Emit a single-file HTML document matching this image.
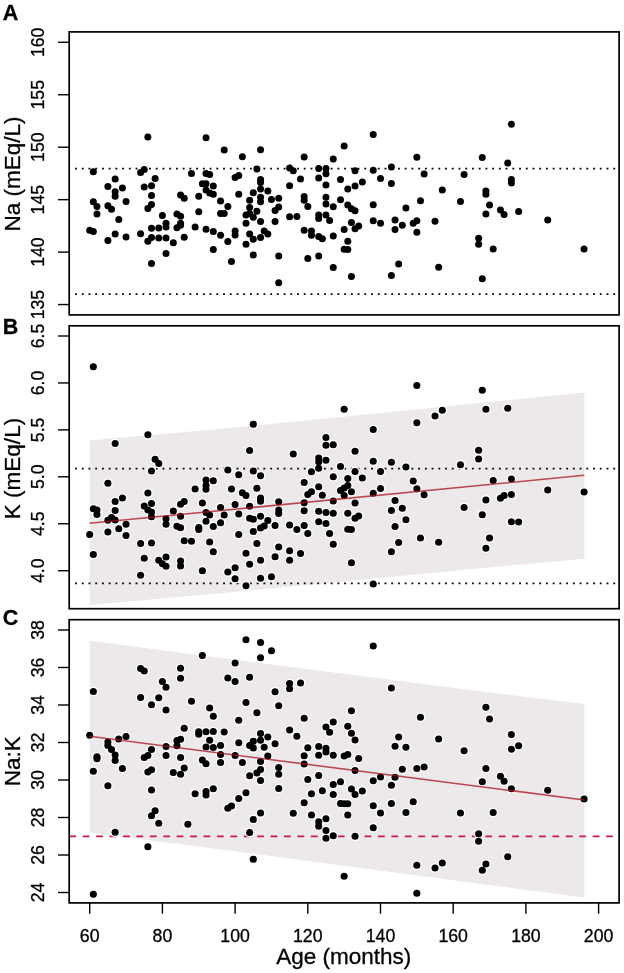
<!DOCTYPE html>
<html><head><meta charset="utf-8"><title>Figure</title>
<style>html,body{margin:0;padding:0;background:#fff}svg{display:block;will-change:transform}</style></head>
<body>
<svg width="624" height="973" viewBox="0 0 624 973" font-family="Liberation Sans, Arial, Helvetica, sans-serif">
<rect width="624" height="973" fill="#fff"/>
<polygon fill="#ede8ea" points="89.7,440.6 225,428.6 468,404.3 584.3,392.5 584.3,558.75 468,569.5 225,592.8 89.7,605"/>
<polygon fill="#ede8ea" points="89.7,640.75 225,658.5 468,689.8 584.3,704 584.3,897.5 468,882.3 225,850 89.7,832.5"/>
<line x1="75.05" y1="168.60" x2="615.4" y2="168.60" stroke="#0a0a0a" stroke-width="1.75" stroke-dasharray="1.9 4.8275" fill="none"/>
<line x1="75.05" y1="294.00" x2="615.4" y2="294.00" stroke="#0a0a0a" stroke-width="1.75" stroke-dasharray="1.9 4.8275" fill="none"/>
<line x1="75.05" y1="468.50" x2="615.4" y2="468.50" stroke="#0a0a0a" stroke-width="1.75" stroke-dasharray="1.9 4.8275" fill="none"/>
<line x1="75.05" y1="583.30" x2="615.4" y2="583.30" stroke="#0a0a0a" stroke-width="1.75" stroke-dasharray="1.9 4.8275" fill="none"/>
<line x1="69.3" y1="836.3" x2="618" y2="836.3" stroke="#c41e45" stroke-width="1.65" stroke-dasharray="6.8 6.62" fill="none"/>
<g fill="#000"><circle cx="147.86" cy="137.0" r="3.5"/><circle cx="206.02" cy="137.75" r="3.5"/><circle cx="224.19" cy="150.0" r="3.5"/><circle cx="93.34" cy="171.75" r="3.5"/><circle cx="144.22" cy="169.5" r="3.5"/><circle cx="140.59" cy="172.5" r="3.5"/><circle cx="115.15" cy="179.0" r="3.5"/><circle cx="155.13" cy="178.5" r="3.5"/><circle cx="191.48" cy="173.5" r="3.5"/><circle cx="206.02" cy="173.5" r="3.5"/><circle cx="209.66" cy="174.5" r="3.5"/><circle cx="107.88" cy="186.5" r="3.5"/><circle cx="122.41" cy="188.0" r="3.5"/><circle cx="144.22" cy="187.0" r="3.5"/><circle cx="151.5" cy="185.75" r="3.5"/><circle cx="202.38" cy="183.75" r="3.5"/><circle cx="206.02" cy="183.75" r="3.5"/><circle cx="213.29" cy="186.0" r="3.5"/><circle cx="115.15" cy="191.75" r="3.5"/><circle cx="115.15" cy="196.25" r="3.5"/><circle cx="151.5" cy="195.5" r="3.5"/><circle cx="180.57" cy="195.0" r="3.5"/><circle cx="184.21" cy="198.25" r="3.5"/><circle cx="198.75" cy="196.25" r="3.5"/><circle cx="206.02" cy="190.0" r="3.5"/><circle cx="209.66" cy="193.0" r="3.5"/><circle cx="213.29" cy="194.25" r="3.5"/><circle cx="93.34" cy="201.75" r="3.5"/><circle cx="126.05" cy="201.5" r="3.5"/><circle cx="220.56" cy="201.0" r="3.5"/><circle cx="96.97" cy="206.5" r="3.5"/><circle cx="107.88" cy="205.75" r="3.5"/><circle cx="111.51" cy="209.25" r="3.5"/><circle cx="151.5" cy="204.5" r="3.5"/><circle cx="147.86" cy="208.5" r="3.5"/><circle cx="96.97" cy="214.0" r="3.5"/><circle cx="162.4" cy="215.5" r="3.5"/><circle cx="176.94" cy="214.0" r="3.5"/><circle cx="180.57" cy="216.25" r="3.5"/><circle cx="198.75" cy="211.75" r="3.5"/><circle cx="220.56" cy="213.5" r="3.5"/><circle cx="224.19" cy="213.5" r="3.5"/><circle cx="118.78" cy="219.5" r="3.5"/><circle cx="166.03" cy="223.25" r="3.5"/><circle cx="166.03" cy="227.0" r="3.5"/><circle cx="180.57" cy="223.25" r="3.5"/><circle cx="180.57" cy="225.25" r="3.5"/><circle cx="176.94" cy="227.75" r="3.5"/><circle cx="151.5" cy="228.25" r="3.5"/><circle cx="158.76" cy="228.0" r="3.5"/><circle cx="195.12" cy="227.0" r="3.5"/><circle cx="89.7" cy="230.25" r="3.5"/><circle cx="93.34" cy="231.5" r="3.5"/><circle cx="206.02" cy="229.25" r="3.5"/><circle cx="213.29" cy="231.5" r="3.5"/><circle cx="115.15" cy="234.0" r="3.5"/><circle cx="140.59" cy="233.75" r="3.5"/><circle cx="126.05" cy="237.0" r="3.5"/><circle cx="107.88" cy="240.5" r="3.5"/><circle cx="151.5" cy="237.5" r="3.5"/><circle cx="147.86" cy="241.25" r="3.5"/><circle cx="158.76" cy="238.0" r="3.5"/><circle cx="166.03" cy="238.0" r="3.5"/><circle cx="184.21" cy="237.25" r="3.5"/><circle cx="173.31" cy="242.75" r="3.5"/><circle cx="220.56" cy="235.25" r="3.5"/><circle cx="213.29" cy="249.5" r="3.5"/><circle cx="166.03" cy="253.5" r="3.5"/><circle cx="151.5" cy="263.5" r="3.5"/><circle cx="373.23" cy="134.5" r="3.5"/><circle cx="260.55" cy="149.75" r="3.5"/><circle cx="344.15" cy="146.0" r="3.5"/><circle cx="242.37" cy="156.75" r="3.5"/><circle cx="304.16" cy="157.0" r="3.5"/><circle cx="333.25" cy="159.0" r="3.5"/><circle cx="256.91" cy="169.0" r="3.5"/><circle cx="289.62" cy="168.0" r="3.5"/><circle cx="293.26" cy="170.75" r="3.5"/><circle cx="318.7" cy="168.5" r="3.5"/><circle cx="325.97" cy="168.5" r="3.5"/><circle cx="355.05" cy="170.75" r="3.5"/><circle cx="373.23" cy="170.25" r="3.5"/><circle cx="325.97" cy="173.75" r="3.5"/><circle cx="238.74" cy="175.5" r="3.5"/><circle cx="235.1" cy="177.5" r="3.5"/><circle cx="300.53" cy="179.0" r="3.5"/><circle cx="318.7" cy="178.0" r="3.5"/><circle cx="340.51" cy="179.5" r="3.5"/><circle cx="260.55" cy="179.5" r="3.5"/><circle cx="260.55" cy="182.5" r="3.5"/><circle cx="289.62" cy="185.75" r="3.5"/><circle cx="325.97" cy="185.0" r="3.5"/><circle cx="362.32" cy="182.0" r="3.5"/><circle cx="355.05" cy="186.0" r="3.5"/><circle cx="347.78" cy="189.0" r="3.5"/><circle cx="260.55" cy="189.0" r="3.5"/><circle cx="267.81" cy="191.0" r="3.5"/><circle cx="253.27" cy="192.75" r="3.5"/><circle cx="238.74" cy="194.25" r="3.5"/><circle cx="260.55" cy="197.25" r="3.5"/><circle cx="260.55" cy="201.75" r="3.5"/><circle cx="271.45" cy="199.5" r="3.5"/><circle cx="278.72" cy="198.25" r="3.5"/><circle cx="249.64" cy="200.25" r="3.5"/><circle cx="304.16" cy="196.5" r="3.5"/><circle cx="304.16" cy="200.25" r="3.5"/><circle cx="325.97" cy="197.25" r="3.5"/><circle cx="340.51" cy="199.75" r="3.5"/><circle cx="227.83" cy="206.5" r="3.5"/><circle cx="249.64" cy="207.5" r="3.5"/><circle cx="256.91" cy="211.25" r="3.5"/><circle cx="278.72" cy="207.0" r="3.5"/><circle cx="275.08" cy="210.5" r="3.5"/><circle cx="307.8" cy="206.5" r="3.5"/><circle cx="325.97" cy="204.0" r="3.5"/><circle cx="333.25" cy="206.75" r="3.5"/><circle cx="347.78" cy="205.0" r="3.5"/><circle cx="351.42" cy="208.75" r="3.5"/><circle cx="355.05" cy="210.75" r="3.5"/><circle cx="373.23" cy="204.75" r="3.5"/><circle cx="246.0" cy="215.0" r="3.5"/><circle cx="249.64" cy="213.5" r="3.5"/><circle cx="253.27" cy="217.25" r="3.5"/><circle cx="289.62" cy="216.75" r="3.5"/><circle cx="296.89" cy="216.5" r="3.5"/><circle cx="318.7" cy="215.0" r="3.5"/><circle cx="318.7" cy="218.5" r="3.5"/><circle cx="325.97" cy="215.0" r="3.5"/><circle cx="329.61" cy="220.5" r="3.5"/><circle cx="373.23" cy="220.75" r="3.5"/><circle cx="246.0" cy="223.25" r="3.5"/><circle cx="260.55" cy="221.5" r="3.5"/><circle cx="275.08" cy="221.5" r="3.5"/><circle cx="351.42" cy="222.5" r="3.5"/><circle cx="358.69" cy="226.0" r="3.5"/><circle cx="355.05" cy="228.75" r="3.5"/><circle cx="235.1" cy="231.0" r="3.5"/><circle cx="235.1" cy="235.0" r="3.5"/><circle cx="249.64" cy="234.0" r="3.5"/><circle cx="264.18" cy="231.0" r="3.5"/><circle cx="267.81" cy="234.0" r="3.5"/><circle cx="260.55" cy="237.5" r="3.5"/><circle cx="253.27" cy="239.25" r="3.5"/><circle cx="304.16" cy="230.25" r="3.5"/><circle cx="311.44" cy="231.0" r="3.5"/><circle cx="311.44" cy="235.25" r="3.5"/><circle cx="318.7" cy="236.5" r="3.5"/><circle cx="322.34" cy="238.75" r="3.5"/><circle cx="333.25" cy="236.0" r="3.5"/><circle cx="344.15" cy="229.5" r="3.5"/><circle cx="227.83" cy="241.5" r="3.5"/><circle cx="246.0" cy="244.25" r="3.5"/><circle cx="347.78" cy="241.25" r="3.5"/><circle cx="344.15" cy="249.25" r="3.5"/><circle cx="347.78" cy="249.5" r="3.5"/><circle cx="253.27" cy="255.0" r="3.5"/><circle cx="278.72" cy="256.0" r="3.5"/><circle cx="307.8" cy="258.5" r="3.5"/><circle cx="318.7" cy="256.0" r="3.5"/><circle cx="231.46" cy="261.5" r="3.5"/><circle cx="333.25" cy="267.5" r="3.5"/><circle cx="351.42" cy="276.5" r="3.5"/><circle cx="278.72" cy="282.75" r="3.5"/><circle cx="511.36" cy="124.25" r="3.5"/><circle cx="416.85" cy="157.25" r="3.5"/><circle cx="482.28" cy="157.5" r="3.5"/><circle cx="507.72" cy="163.0" r="3.5"/><circle cx="391.4" cy="167.0" r="3.5"/><circle cx="424.12" cy="174.0" r="3.5"/><circle cx="464.1" cy="174.5" r="3.5"/><circle cx="380.5" cy="178.5" r="3.5"/><circle cx="391.4" cy="183.5" r="3.5"/><circle cx="511.36" cy="179.5" r="3.5"/><circle cx="511.36" cy="183.0" r="3.5"/><circle cx="442.29" cy="190.0" r="3.5"/><circle cx="485.91" cy="191.0" r="3.5"/><circle cx="485.91" cy="194.25" r="3.5"/><circle cx="420.48" cy="200.75" r="3.5"/><circle cx="460.47" cy="201.5" r="3.5"/><circle cx="405.94" cy="208.0" r="3.5"/><circle cx="489.55" cy="205.0" r="3.5"/><circle cx="500.45" cy="210.0" r="3.5"/><circle cx="504.09" cy="214.5" r="3.5"/><circle cx="485.91" cy="214.0" r="3.5"/><circle cx="518.63" cy="211.5" r="3.5"/><circle cx="380.5" cy="223.25" r="3.5"/><circle cx="395.04" cy="220.0" r="3.5"/><circle cx="416.85" cy="220.75" r="3.5"/><circle cx="413.21" cy="223.25" r="3.5"/><circle cx="402.31" cy="225.25" r="3.5"/><circle cx="435.02" cy="221.25" r="3.5"/><circle cx="395.04" cy="229.5" r="3.5"/><circle cx="416.85" cy="232.25" r="3.5"/><circle cx="478.64" cy="238.25" r="3.5"/><circle cx="478.64" cy="244.25" r="3.5"/><circle cx="493.18" cy="249.0" r="3.5"/><circle cx="398.67" cy="264.0" r="3.5"/><circle cx="438.66" cy="267.25" r="3.5"/><circle cx="391.4" cy="275.5" r="3.5"/><circle cx="482.28" cy="278.75" r="3.5"/><circle cx="547.71" cy="220.0" r="3.5"/><circle cx="584.06" cy="249.0" r="3.5"/></g>
<g fill="#fff"><circle cx="93.34" cy="366.75" r="4.8"/><circle cx="147.86" cy="434.75" r="4.8"/><circle cx="115.15" cy="443.5" r="4.8"/><circle cx="155.13" cy="459.25" r="4.8"/><circle cx="158.76" cy="463.5" r="4.8"/><circle cx="151.5" cy="471.0" r="4.8"/><circle cx="107.88" cy="483.25" r="4.8"/><circle cx="206.02" cy="480.0" r="4.8"/><circle cx="213.29" cy="480.75" r="4.8"/><circle cx="206.02" cy="485.5" r="4.8"/><circle cx="206.02" cy="489.25" r="4.8"/><circle cx="195.12" cy="489.0" r="4.8"/><circle cx="147.86" cy="493.0" r="4.8"/><circle cx="122.41" cy="498.0" r="4.8"/><circle cx="115.15" cy="501.5" r="4.8"/><circle cx="184.21" cy="501.5" r="4.8"/><circle cx="180.57" cy="504.25" r="4.8"/><circle cx="151.5" cy="503.5" r="4.8"/><circle cx="202.38" cy="503.0" r="4.8"/><circle cx="144.22" cy="506.0" r="4.8"/><circle cx="93.34" cy="508.75" r="4.8"/><circle cx="96.97" cy="510.0" r="4.8"/><circle cx="96.97" cy="514.5" r="4.8"/><circle cx="115.15" cy="510.5" r="4.8"/><circle cx="147.86" cy="510.0" r="4.8"/><circle cx="151.5" cy="512.0" r="4.8"/><circle cx="151.5" cy="516.75" r="4.8"/><circle cx="173.31" cy="511.0" r="4.8"/><circle cx="220.56" cy="507.5" r="4.8"/><circle cx="206.02" cy="512.5" r="4.8"/><circle cx="209.66" cy="515.0" r="4.8"/><circle cx="224.19" cy="515.0" r="4.8"/><circle cx="180.57" cy="516.25" r="4.8"/><circle cx="111.51" cy="517.5" r="4.8"/><circle cx="107.88" cy="520.25" r="4.8"/><circle cx="115.15" cy="520.0" r="4.8"/><circle cx="166.03" cy="518.75" r="4.8"/><circle cx="166.03" cy="524.25" r="4.8"/><circle cx="206.02" cy="521.25" r="4.8"/><circle cx="220.56" cy="522.75" r="4.8"/><circle cx="126.05" cy="524.25" r="4.8"/><circle cx="176.94" cy="526.25" r="4.8"/><circle cx="180.57" cy="527.75" r="4.8"/><circle cx="198.75" cy="527.5" r="4.8"/><circle cx="198.75" cy="529.5" r="4.8"/><circle cx="213.29" cy="526.5" r="4.8"/><circle cx="118.78" cy="528.75" r="4.8"/><circle cx="107.88" cy="532.0" r="4.8"/><circle cx="89.7" cy="534.5" r="4.8"/><circle cx="126.05" cy="535.5" r="4.8"/><circle cx="184.21" cy="540.75" r="4.8"/><circle cx="191.48" cy="541.25" r="4.8"/><circle cx="209.66" cy="542.0" r="4.8"/><circle cx="140.59" cy="543.5" r="4.8"/><circle cx="151.5" cy="543.0" r="4.8"/><circle cx="93.34" cy="554.5" r="4.8"/><circle cx="213.29" cy="551.75" r="4.8"/><circle cx="144.22" cy="558.25" r="4.8"/><circle cx="166.03" cy="557.0" r="4.8"/><circle cx="158.76" cy="560.25" r="4.8"/><circle cx="162.4" cy="563.75" r="4.8"/><circle cx="166.03" cy="566.25" r="4.8"/><circle cx="180.57" cy="561.0" r="4.8"/><circle cx="180.57" cy="566.0" r="4.8"/><circle cx="202.38" cy="570.75" r="4.8"/><circle cx="140.59" cy="575.25" r="4.8"/><circle cx="344.15" cy="409.25" r="4.8"/><circle cx="253.27" cy="424.25" r="4.8"/><circle cx="373.23" cy="429.5" r="4.8"/><circle cx="325.97" cy="437.5" r="4.8"/><circle cx="325.97" cy="445.25" r="4.8"/><circle cx="333.25" cy="444.75" r="4.8"/><circle cx="249.64" cy="450.5" r="4.8"/><circle cx="293.26" cy="454.0" r="4.8"/><circle cx="355.05" cy="451.25" r="4.8"/><circle cx="318.7" cy="458.0" r="4.8"/><circle cx="318.7" cy="461.75" r="4.8"/><circle cx="325.97" cy="460.25" r="4.8"/><circle cx="373.23" cy="461.25" r="4.8"/><circle cx="340.51" cy="466.5" r="4.8"/><circle cx="318.7" cy="468.25" r="4.8"/><circle cx="227.83" cy="470.0" r="4.8"/><circle cx="253.27" cy="471.0" r="4.8"/><circle cx="311.44" cy="471.75" r="4.8"/><circle cx="355.05" cy="471.5" r="4.8"/><circle cx="238.74" cy="474.75" r="4.8"/><circle cx="260.55" cy="475.75" r="4.8"/><circle cx="333.25" cy="476.75" r="4.8"/><circle cx="347.78" cy="478.5" r="4.8"/><circle cx="362.32" cy="478.0" r="4.8"/><circle cx="304.16" cy="482.5" r="4.8"/><circle cx="231.46" cy="489.0" r="4.8"/><circle cx="256.91" cy="488.25" r="4.8"/><circle cx="318.7" cy="486.75" r="4.8"/><circle cx="347.78" cy="485.5" r="4.8"/><circle cx="344.15" cy="488.0" r="4.8"/><circle cx="340.51" cy="490.5" r="4.8"/><circle cx="311.44" cy="491.75" r="4.8"/><circle cx="307.8" cy="494.5" r="4.8"/><circle cx="242.37" cy="492.75" r="4.8"/><circle cx="246.0" cy="495.5" r="4.8"/><circle cx="322.34" cy="495.25" r="4.8"/><circle cx="351.42" cy="491.75" r="4.8"/><circle cx="344.15" cy="495.5" r="4.8"/><circle cx="373.23" cy="493.25" r="4.8"/><circle cx="260.55" cy="498.0" r="4.8"/><circle cx="260.55" cy="501.25" r="4.8"/><circle cx="278.72" cy="501.75" r="4.8"/><circle cx="304.16" cy="502.75" r="4.8"/><circle cx="333.25" cy="501.0" r="4.8"/><circle cx="355.05" cy="503.0" r="4.8"/><circle cx="235.1" cy="504.5" r="4.8"/><circle cx="249.64" cy="506.25" r="4.8"/><circle cx="278.72" cy="510.0" r="4.8"/><circle cx="278.72" cy="513.5" r="4.8"/><circle cx="304.16" cy="510.75" r="4.8"/><circle cx="318.7" cy="511.25" r="4.8"/><circle cx="325.97" cy="512.5" r="4.8"/><circle cx="333.25" cy="513.25" r="4.8"/><circle cx="347.78" cy="513.25" r="4.8"/><circle cx="238.74" cy="514.0" r="4.8"/><circle cx="260.55" cy="516.25" r="4.8"/><circle cx="249.64" cy="518.25" r="4.8"/><circle cx="253.27" cy="519.25" r="4.8"/><circle cx="358.69" cy="516.0" r="4.8"/><circle cx="355.05" cy="518.25" r="4.8"/><circle cx="267.81" cy="520.5" r="4.8"/><circle cx="318.7" cy="521.75" r="4.8"/><circle cx="325.97" cy="523.5" r="4.8"/><circle cx="275.08" cy="525.5" r="4.8"/><circle cx="289.62" cy="525.0" r="4.8"/><circle cx="304.16" cy="525.5" r="4.8"/><circle cx="264.18" cy="526.0" r="4.8"/><circle cx="260.55" cy="528.0" r="4.8"/><circle cx="296.89" cy="529.5" r="4.8"/><circle cx="347.78" cy="529.25" r="4.8"/><circle cx="351.42" cy="529.5" r="4.8"/><circle cx="253.27" cy="531.5" r="4.8"/><circle cx="307.8" cy="533.5" r="4.8"/><circle cx="329.61" cy="533.5" r="4.8"/><circle cx="238.74" cy="534.5" r="4.8"/><circle cx="256.91" cy="543.5" r="4.8"/><circle cx="333.25" cy="544.25" r="4.8"/><circle cx="278.72" cy="547.0" r="4.8"/><circle cx="289.62" cy="550.75" r="4.8"/><circle cx="246.0" cy="553.25" r="4.8"/><circle cx="300.53" cy="553.5" r="4.8"/><circle cx="275.08" cy="556.75" r="4.8"/><circle cx="260.55" cy="560.25" r="4.8"/><circle cx="289.62" cy="560.25" r="4.8"/><circle cx="249.64" cy="564.25" r="4.8"/><circle cx="351.42" cy="562.75" r="4.8"/><circle cx="235.1" cy="567.75" r="4.8"/><circle cx="227.83" cy="572.0" r="4.8"/><circle cx="235.1" cy="578.75" r="4.8"/><circle cx="260.55" cy="578.25" r="4.8"/><circle cx="271.45" cy="576.75" r="4.8"/><circle cx="246.0" cy="585.75" r="4.8"/><circle cx="373.23" cy="584.0" r="4.8"/><circle cx="416.85" cy="385.5" r="4.8"/><circle cx="482.28" cy="390.25" r="4.8"/><circle cx="485.91" cy="409.25" r="4.8"/><circle cx="507.72" cy="408.25" r="4.8"/><circle cx="442.29" cy="410.25" r="4.8"/><circle cx="435.02" cy="416.0" r="4.8"/><circle cx="416.85" cy="422.75" r="4.8"/><circle cx="478.64" cy="450.25" r="4.8"/><circle cx="478.64" cy="459.0" r="4.8"/><circle cx="391.4" cy="462.25" r="4.8"/><circle cx="460.47" cy="464.75" r="4.8"/><circle cx="405.94" cy="467.0" r="4.8"/><circle cx="380.5" cy="471.5" r="4.8"/><circle cx="413.21" cy="481.0" r="4.8"/><circle cx="493.18" cy="480.5" r="4.8"/><circle cx="511.36" cy="479.0" r="4.8"/><circle cx="380.5" cy="488.5" r="4.8"/><circle cx="416.85" cy="488.75" r="4.8"/><circle cx="424.12" cy="494.75" r="4.8"/><circle cx="511.36" cy="494.5" r="4.8"/><circle cx="504.09" cy="495.5" r="4.8"/><circle cx="500.45" cy="498.25" r="4.8"/><circle cx="395.04" cy="500.5" r="4.8"/><circle cx="485.91" cy="500.0" r="4.8"/><circle cx="402.31" cy="508.25" r="4.8"/><circle cx="391.4" cy="510.5" r="4.8"/><circle cx="464.1" cy="507.5" r="4.8"/><circle cx="482.28" cy="514.75" r="4.8"/><circle cx="405.94" cy="519.75" r="4.8"/><circle cx="511.36" cy="521.75" r="4.8"/><circle cx="518.63" cy="522.0" r="4.8"/><circle cx="395.04" cy="526.5" r="4.8"/><circle cx="420.48" cy="538.0" r="4.8"/><circle cx="489.55" cy="538.0" r="4.8"/><circle cx="398.67" cy="542.5" r="4.8"/><circle cx="438.66" cy="542.25" r="4.8"/><circle cx="485.91" cy="548.25" r="4.8"/><circle cx="391.4" cy="551.75" r="4.8"/><circle cx="547.71" cy="490.0" r="4.8"/><circle cx="584.06" cy="492.0" r="4.8"/><circle cx="202.38" cy="655.5" r="4.8"/><circle cx="140.59" cy="668.5" r="4.8"/><circle cx="144.22" cy="671.0" r="4.8"/><circle cx="180.57" cy="668.25" r="4.8"/><circle cx="180.57" cy="678.25" r="4.8"/><circle cx="162.4" cy="681.5" r="4.8"/><circle cx="166.03" cy="687.25" r="4.8"/><circle cx="93.34" cy="691.5" r="4.8"/><circle cx="140.59" cy="697.5" r="4.8"/><circle cx="158.76" cy="697.75" r="4.8"/><circle cx="191.48" cy="701.25" r="4.8"/><circle cx="151.5" cy="704.75" r="4.8"/><circle cx="166.03" cy="710.0" r="4.8"/><circle cx="209.66" cy="708.0" r="4.8"/><circle cx="213.29" cy="716.25" r="4.8"/><circle cx="184.21" cy="728.25" r="4.8"/><circle cx="198.75" cy="731.75" r="4.8"/><circle cx="198.75" cy="734.25" r="4.8"/><circle cx="206.02" cy="731.75" r="4.8"/><circle cx="213.29" cy="731.5" r="4.8"/><circle cx="224.19" cy="732.0" r="4.8"/><circle cx="89.7" cy="735.25" r="4.8"/><circle cx="126.05" cy="736.5" r="4.8"/><circle cx="118.78" cy="739.0" r="4.8"/><circle cx="180.57" cy="739.25" r="4.8"/><circle cx="176.94" cy="740.5" r="4.8"/><circle cx="209.66" cy="740.25" r="4.8"/><circle cx="107.88" cy="742.0" r="4.8"/><circle cx="107.88" cy="745.5" r="4.8"/><circle cx="176.94" cy="745.75" r="4.8"/><circle cx="166.03" cy="746.5" r="4.8"/><circle cx="206.02" cy="747.0" r="4.8"/><circle cx="213.29" cy="747.5" r="4.8"/><circle cx="220.56" cy="745.5" r="4.8"/><circle cx="111.51" cy="749.5" r="4.8"/><circle cx="151.5" cy="749.5" r="4.8"/><circle cx="147.86" cy="755.5" r="4.8"/><circle cx="144.22" cy="757.5" r="4.8"/><circle cx="115.15" cy="755.0" r="4.8"/><circle cx="166.03" cy="755.5" r="4.8"/><circle cx="180.57" cy="757.5" r="4.8"/><circle cx="220.56" cy="754.5" r="4.8"/><circle cx="96.97" cy="756.75" r="4.8"/><circle cx="96.97" cy="758.75" r="4.8"/><circle cx="115.15" cy="760.5" r="4.8"/><circle cx="202.38" cy="760.0" r="4.8"/><circle cx="206.02" cy="763.75" r="4.8"/><circle cx="220.56" cy="762.5" r="4.8"/><circle cx="93.34" cy="771.25" r="4.8"/><circle cx="122.41" cy="768.5" r="4.8"/><circle cx="151.5" cy="769.75" r="4.8"/><circle cx="147.86" cy="772.0" r="4.8"/><circle cx="184.21" cy="768.0" r="4.8"/><circle cx="173.31" cy="772.5" r="4.8"/><circle cx="180.57" cy="774.25" r="4.8"/><circle cx="107.88" cy="785.75" r="4.8"/><circle cx="151.5" cy="790.0" r="4.8"/><circle cx="213.29" cy="788.75" r="4.8"/><circle cx="206.02" cy="791.5" r="4.8"/><circle cx="206.02" cy="795.0" r="4.8"/><circle cx="195.12" cy="793.75" r="4.8"/><circle cx="155.13" cy="810.75" r="4.8"/><circle cx="151.5" cy="815.75" r="4.8"/><circle cx="158.76" cy="823.25" r="4.8"/><circle cx="187.84" cy="824.25" r="4.8"/><circle cx="115.15" cy="832.25" r="4.8"/><circle cx="147.86" cy="846.75" r="4.8"/><circle cx="93.34" cy="894.25" r="4.8"/><circle cx="246.0" cy="639.75" r="4.8"/><circle cx="260.55" cy="642.5" r="4.8"/><circle cx="373.23" cy="646.0" r="4.8"/><circle cx="271.45" cy="650.75" r="4.8"/><circle cx="260.55" cy="657.75" r="4.8"/><circle cx="235.1" cy="663.0" r="4.8"/><circle cx="227.83" cy="678.0" r="4.8"/><circle cx="249.64" cy="677.25" r="4.8"/><circle cx="235.1" cy="681.5" r="4.8"/><circle cx="289.62" cy="683.5" r="4.8"/><circle cx="289.62" cy="688.75" r="4.8"/><circle cx="300.53" cy="683.0" r="4.8"/><circle cx="275.08" cy="691.75" r="4.8"/><circle cx="246.0" cy="702.5" r="4.8"/><circle cx="278.72" cy="705.75" r="4.8"/><circle cx="256.91" cy="712.75" r="4.8"/><circle cx="351.42" cy="710.75" r="4.8"/><circle cx="304.16" cy="718.25" r="4.8"/><circle cx="238.74" cy="720.25" r="4.8"/><circle cx="333.25" cy="722.0" r="4.8"/><circle cx="325.97" cy="727.0" r="4.8"/><circle cx="347.78" cy="726.25" r="4.8"/><circle cx="289.62" cy="730.0" r="4.8"/><circle cx="329.61" cy="732.25" r="4.8"/><circle cx="351.42" cy="733.25" r="4.8"/><circle cx="260.55" cy="733.5" r="4.8"/><circle cx="267.81" cy="737.0" r="4.8"/><circle cx="296.89" cy="736.25" r="4.8"/><circle cx="260.55" cy="740.25" r="4.8"/><circle cx="253.27" cy="741.25" r="4.8"/><circle cx="355.05" cy="740.0" r="4.8"/><circle cx="238.74" cy="742.75" r="4.8"/><circle cx="275.08" cy="743.75" r="4.8"/><circle cx="249.64" cy="745.5" r="4.8"/><circle cx="253.27" cy="748.0" r="4.8"/><circle cx="264.18" cy="747.25" r="4.8"/><circle cx="307.8" cy="747.75" r="4.8"/><circle cx="318.7" cy="746.5" r="4.8"/><circle cx="325.97" cy="748.25" r="4.8"/><circle cx="325.97" cy="752.0" r="4.8"/><circle cx="235.1" cy="755.5" r="4.8"/><circle cx="267.81" cy="756.0" r="4.8"/><circle cx="304.16" cy="755.75" r="4.8"/><circle cx="318.7" cy="755.25" r="4.8"/><circle cx="333.25" cy="755.25" r="4.8"/><circle cx="344.15" cy="756.0" r="4.8"/><circle cx="347.78" cy="754.5" r="4.8"/><circle cx="358.69" cy="758.5" r="4.8"/><circle cx="242.37" cy="762.5" r="4.8"/><circle cx="260.55" cy="761.5" r="4.8"/><circle cx="304.16" cy="764.0" r="4.8"/><circle cx="278.72" cy="767.5" r="4.8"/><circle cx="260.55" cy="769.5" r="4.8"/><circle cx="256.91" cy="773.0" r="4.8"/><circle cx="278.72" cy="774.25" r="4.8"/><circle cx="249.64" cy="775.75" r="4.8"/><circle cx="260.55" cy="780.5" r="4.8"/><circle cx="355.05" cy="770.5" r="4.8"/><circle cx="318.7" cy="775.5" r="4.8"/><circle cx="307.8" cy="779.5" r="4.8"/><circle cx="373.23" cy="780.75" r="4.8"/><circle cx="340.51" cy="781.75" r="4.8"/><circle cx="333.25" cy="784.5" r="4.8"/><circle cx="278.72" cy="788.5" r="4.8"/><circle cx="322.34" cy="790.75" r="4.8"/><circle cx="351.42" cy="789.0" r="4.8"/><circle cx="362.32" cy="791.0" r="4.8"/><circle cx="246.0" cy="792.75" r="4.8"/><circle cx="311.44" cy="793.75" r="4.8"/><circle cx="333.25" cy="794.5" r="4.8"/><circle cx="355.05" cy="794.5" r="4.8"/><circle cx="238.74" cy="798.5" r="4.8"/><circle cx="304.16" cy="802.75" r="4.8"/><circle cx="340.51" cy="803.5" r="4.8"/><circle cx="344.15" cy="803.75" r="4.8"/><circle cx="347.78" cy="803.75" r="4.8"/><circle cx="231.46" cy="806.0" r="4.8"/><circle cx="227.83" cy="808.25" r="4.8"/><circle cx="373.23" cy="805.75" r="4.8"/><circle cx="260.55" cy="813.0" r="4.8"/><circle cx="293.26" cy="813.25" r="4.8"/><circle cx="311.44" cy="815.0" r="4.8"/><circle cx="347.78" cy="815.0" r="4.8"/><circle cx="253.27" cy="819.5" r="4.8"/><circle cx="325.97" cy="818.75" r="4.8"/><circle cx="318.7" cy="821.75" r="4.8"/><circle cx="318.7" cy="826.25" r="4.8"/><circle cx="373.23" cy="827.75" r="4.8"/><circle cx="325.97" cy="830.5" r="4.8"/><circle cx="249.64" cy="832.5" r="4.8"/><circle cx="333.25" cy="835.75" r="4.8"/><circle cx="325.97" cy="838.25" r="4.8"/><circle cx="355.05" cy="836.25" r="4.8"/><circle cx="253.27" cy="859.25" r="4.8"/><circle cx="344.15" cy="876.25" r="4.8"/><circle cx="391.4" cy="688.0" r="4.8"/><circle cx="485.91" cy="707.25" r="4.8"/><circle cx="420.48" cy="717.25" r="4.8"/><circle cx="489.55" cy="719.0" r="4.8"/><circle cx="398.67" cy="737.0" r="4.8"/><circle cx="511.36" cy="734.5" r="4.8"/><circle cx="438.66" cy="739.0" r="4.8"/><circle cx="395.04" cy="746.25" r="4.8"/><circle cx="405.94" cy="747.25" r="4.8"/><circle cx="518.63" cy="745.75" r="4.8"/><circle cx="511.36" cy="749.25" r="4.8"/><circle cx="464.1" cy="750.75" r="4.8"/><circle cx="402.31" cy="769.25" r="4.8"/><circle cx="416.85" cy="768.5" r="4.8"/><circle cx="424.12" cy="767.0" r="4.8"/><circle cx="485.91" cy="768.5" r="4.8"/><circle cx="380.5" cy="777.0" r="4.8"/><circle cx="395.04" cy="777.25" r="4.8"/><circle cx="500.45" cy="776.25" r="4.8"/><circle cx="391.4" cy="785.25" r="4.8"/><circle cx="482.28" cy="781.75" r="4.8"/><circle cx="504.09" cy="781.25" r="4.8"/><circle cx="511.36" cy="788.75" r="4.8"/><circle cx="413.21" cy="801.75" r="4.8"/><circle cx="391.4" cy="803.5" r="4.8"/><circle cx="380.5" cy="813.0" r="4.8"/><circle cx="405.94" cy="812.5" r="4.8"/><circle cx="460.47" cy="813.0" r="4.8"/><circle cx="493.18" cy="812.5" r="4.8"/><circle cx="478.64" cy="833.75" r="4.8"/><circle cx="478.64" cy="841.25" r="4.8"/><circle cx="507.72" cy="856.75" r="4.8"/><circle cx="442.29" cy="863.0" r="4.8"/><circle cx="416.85" cy="865.25" r="4.8"/><circle cx="435.02" cy="868.0" r="4.8"/><circle cx="485.91" cy="864.0" r="4.8"/><circle cx="482.28" cy="870.25" r="4.8"/><circle cx="416.85" cy="893.25" r="4.8"/><circle cx="547.71" cy="790.25" r="4.8"/><circle cx="584.06" cy="799.0" r="4.8"/></g>
<g fill="#000"><circle cx="93.34" cy="366.75" r="3.55"/><circle cx="147.86" cy="434.75" r="3.55"/><circle cx="115.15" cy="443.5" r="3.55"/><circle cx="155.13" cy="459.25" r="3.55"/><circle cx="158.76" cy="463.5" r="3.55"/><circle cx="151.5" cy="471.0" r="3.55"/><circle cx="107.88" cy="483.25" r="3.55"/><circle cx="206.02" cy="480.0" r="3.55"/><circle cx="213.29" cy="480.75" r="3.55"/><circle cx="206.02" cy="485.5" r="3.55"/><circle cx="206.02" cy="489.25" r="3.55"/><circle cx="195.12" cy="489.0" r="3.55"/><circle cx="147.86" cy="493.0" r="3.55"/><circle cx="122.41" cy="498.0" r="3.55"/><circle cx="115.15" cy="501.5" r="3.55"/><circle cx="184.21" cy="501.5" r="3.55"/><circle cx="180.57" cy="504.25" r="3.55"/><circle cx="151.5" cy="503.5" r="3.55"/><circle cx="202.38" cy="503.0" r="3.55"/><circle cx="144.22" cy="506.0" r="3.55"/><circle cx="93.34" cy="508.75" r="3.55"/><circle cx="96.97" cy="510.0" r="3.55"/><circle cx="96.97" cy="514.5" r="3.55"/><circle cx="115.15" cy="510.5" r="3.55"/><circle cx="147.86" cy="510.0" r="3.55"/><circle cx="151.5" cy="512.0" r="3.55"/><circle cx="151.5" cy="516.75" r="3.55"/><circle cx="173.31" cy="511.0" r="3.55"/><circle cx="220.56" cy="507.5" r="3.55"/><circle cx="206.02" cy="512.5" r="3.55"/><circle cx="209.66" cy="515.0" r="3.55"/><circle cx="224.19" cy="515.0" r="3.55"/><circle cx="180.57" cy="516.25" r="3.55"/><circle cx="111.51" cy="517.5" r="3.55"/><circle cx="107.88" cy="520.25" r="3.55"/><circle cx="115.15" cy="520.0" r="3.55"/><circle cx="166.03" cy="518.75" r="3.55"/><circle cx="166.03" cy="524.25" r="3.55"/><circle cx="206.02" cy="521.25" r="3.55"/><circle cx="220.56" cy="522.75" r="3.55"/><circle cx="126.05" cy="524.25" r="3.55"/><circle cx="176.94" cy="526.25" r="3.55"/><circle cx="180.57" cy="527.75" r="3.55"/><circle cx="198.75" cy="527.5" r="3.55"/><circle cx="198.75" cy="529.5" r="3.55"/><circle cx="213.29" cy="526.5" r="3.55"/><circle cx="118.78" cy="528.75" r="3.55"/><circle cx="107.88" cy="532.0" r="3.55"/><circle cx="89.7" cy="534.5" r="3.55"/><circle cx="126.05" cy="535.5" r="3.55"/><circle cx="184.21" cy="540.75" r="3.55"/><circle cx="191.48" cy="541.25" r="3.55"/><circle cx="209.66" cy="542.0" r="3.55"/><circle cx="140.59" cy="543.5" r="3.55"/><circle cx="151.5" cy="543.0" r="3.55"/><circle cx="93.34" cy="554.5" r="3.55"/><circle cx="213.29" cy="551.75" r="3.55"/><circle cx="144.22" cy="558.25" r="3.55"/><circle cx="166.03" cy="557.0" r="3.55"/><circle cx="158.76" cy="560.25" r="3.55"/><circle cx="162.4" cy="563.75" r="3.55"/><circle cx="166.03" cy="566.25" r="3.55"/><circle cx="180.57" cy="561.0" r="3.55"/><circle cx="180.57" cy="566.0" r="3.55"/><circle cx="202.38" cy="570.75" r="3.55"/><circle cx="140.59" cy="575.25" r="3.55"/><circle cx="344.15" cy="409.25" r="3.55"/><circle cx="253.27" cy="424.25" r="3.55"/><circle cx="373.23" cy="429.5" r="3.55"/><circle cx="325.97" cy="437.5" r="3.55"/><circle cx="325.97" cy="445.25" r="3.55"/><circle cx="333.25" cy="444.75" r="3.55"/><circle cx="249.64" cy="450.5" r="3.55"/><circle cx="293.26" cy="454.0" r="3.55"/><circle cx="355.05" cy="451.25" r="3.55"/><circle cx="318.7" cy="458.0" r="3.55"/><circle cx="318.7" cy="461.75" r="3.55"/><circle cx="325.97" cy="460.25" r="3.55"/><circle cx="373.23" cy="461.25" r="3.55"/><circle cx="340.51" cy="466.5" r="3.55"/><circle cx="318.7" cy="468.25" r="3.55"/><circle cx="227.83" cy="470.0" r="3.55"/><circle cx="253.27" cy="471.0" r="3.55"/><circle cx="311.44" cy="471.75" r="3.55"/><circle cx="355.05" cy="471.5" r="3.55"/><circle cx="238.74" cy="474.75" r="3.55"/><circle cx="260.55" cy="475.75" r="3.55"/><circle cx="333.25" cy="476.75" r="3.55"/><circle cx="347.78" cy="478.5" r="3.55"/><circle cx="362.32" cy="478.0" r="3.55"/><circle cx="304.16" cy="482.5" r="3.55"/><circle cx="231.46" cy="489.0" r="3.55"/><circle cx="256.91" cy="488.25" r="3.55"/><circle cx="318.7" cy="486.75" r="3.55"/><circle cx="347.78" cy="485.5" r="3.55"/><circle cx="344.15" cy="488.0" r="3.55"/><circle cx="340.51" cy="490.5" r="3.55"/><circle cx="311.44" cy="491.75" r="3.55"/><circle cx="307.8" cy="494.5" r="3.55"/><circle cx="242.37" cy="492.75" r="3.55"/><circle cx="246.0" cy="495.5" r="3.55"/><circle cx="322.34" cy="495.25" r="3.55"/><circle cx="351.42" cy="491.75" r="3.55"/><circle cx="344.15" cy="495.5" r="3.55"/><circle cx="373.23" cy="493.25" r="3.55"/><circle cx="260.55" cy="498.0" r="3.55"/><circle cx="260.55" cy="501.25" r="3.55"/><circle cx="278.72" cy="501.75" r="3.55"/><circle cx="304.16" cy="502.75" r="3.55"/><circle cx="333.25" cy="501.0" r="3.55"/><circle cx="355.05" cy="503.0" r="3.55"/><circle cx="235.1" cy="504.5" r="3.55"/><circle cx="249.64" cy="506.25" r="3.55"/><circle cx="278.72" cy="510.0" r="3.55"/><circle cx="278.72" cy="513.5" r="3.55"/><circle cx="304.16" cy="510.75" r="3.55"/><circle cx="318.7" cy="511.25" r="3.55"/><circle cx="325.97" cy="512.5" r="3.55"/><circle cx="333.25" cy="513.25" r="3.55"/><circle cx="347.78" cy="513.25" r="3.55"/><circle cx="238.74" cy="514.0" r="3.55"/><circle cx="260.55" cy="516.25" r="3.55"/><circle cx="249.64" cy="518.25" r="3.55"/><circle cx="253.27" cy="519.25" r="3.55"/><circle cx="358.69" cy="516.0" r="3.55"/><circle cx="355.05" cy="518.25" r="3.55"/><circle cx="267.81" cy="520.5" r="3.55"/><circle cx="318.7" cy="521.75" r="3.55"/><circle cx="325.97" cy="523.5" r="3.55"/><circle cx="275.08" cy="525.5" r="3.55"/><circle cx="289.62" cy="525.0" r="3.55"/><circle cx="304.16" cy="525.5" r="3.55"/><circle cx="264.18" cy="526.0" r="3.55"/><circle cx="260.55" cy="528.0" r="3.55"/><circle cx="296.89" cy="529.5" r="3.55"/><circle cx="347.78" cy="529.25" r="3.55"/><circle cx="351.42" cy="529.5" r="3.55"/><circle cx="253.27" cy="531.5" r="3.55"/><circle cx="307.8" cy="533.5" r="3.55"/><circle cx="329.61" cy="533.5" r="3.55"/><circle cx="238.74" cy="534.5" r="3.55"/><circle cx="256.91" cy="543.5" r="3.55"/><circle cx="333.25" cy="544.25" r="3.55"/><circle cx="278.72" cy="547.0" r="3.55"/><circle cx="289.62" cy="550.75" r="3.55"/><circle cx="246.0" cy="553.25" r="3.55"/><circle cx="300.53" cy="553.5" r="3.55"/><circle cx="275.08" cy="556.75" r="3.55"/><circle cx="260.55" cy="560.25" r="3.55"/><circle cx="289.62" cy="560.25" r="3.55"/><circle cx="249.64" cy="564.25" r="3.55"/><circle cx="351.42" cy="562.75" r="3.55"/><circle cx="235.1" cy="567.75" r="3.55"/><circle cx="227.83" cy="572.0" r="3.55"/><circle cx="235.1" cy="578.75" r="3.55"/><circle cx="260.55" cy="578.25" r="3.55"/><circle cx="271.45" cy="576.75" r="3.55"/><circle cx="246.0" cy="585.75" r="3.55"/><circle cx="373.23" cy="584.0" r="3.55"/><circle cx="416.85" cy="385.5" r="3.55"/><circle cx="482.28" cy="390.25" r="3.55"/><circle cx="485.91" cy="409.25" r="3.55"/><circle cx="507.72" cy="408.25" r="3.55"/><circle cx="442.29" cy="410.25" r="3.55"/><circle cx="435.02" cy="416.0" r="3.55"/><circle cx="416.85" cy="422.75" r="3.55"/><circle cx="478.64" cy="450.25" r="3.55"/><circle cx="478.64" cy="459.0" r="3.55"/><circle cx="391.4" cy="462.25" r="3.55"/><circle cx="460.47" cy="464.75" r="3.55"/><circle cx="405.94" cy="467.0" r="3.55"/><circle cx="380.5" cy="471.5" r="3.55"/><circle cx="413.21" cy="481.0" r="3.55"/><circle cx="493.18" cy="480.5" r="3.55"/><circle cx="511.36" cy="479.0" r="3.55"/><circle cx="380.5" cy="488.5" r="3.55"/><circle cx="416.85" cy="488.75" r="3.55"/><circle cx="424.12" cy="494.75" r="3.55"/><circle cx="511.36" cy="494.5" r="3.55"/><circle cx="504.09" cy="495.5" r="3.55"/><circle cx="500.45" cy="498.25" r="3.55"/><circle cx="395.04" cy="500.5" r="3.55"/><circle cx="485.91" cy="500.0" r="3.55"/><circle cx="402.31" cy="508.25" r="3.55"/><circle cx="391.4" cy="510.5" r="3.55"/><circle cx="464.1" cy="507.5" r="3.55"/><circle cx="482.28" cy="514.75" r="3.55"/><circle cx="405.94" cy="519.75" r="3.55"/><circle cx="511.36" cy="521.75" r="3.55"/><circle cx="518.63" cy="522.0" r="3.55"/><circle cx="395.04" cy="526.5" r="3.55"/><circle cx="420.48" cy="538.0" r="3.55"/><circle cx="489.55" cy="538.0" r="3.55"/><circle cx="398.67" cy="542.5" r="3.55"/><circle cx="438.66" cy="542.25" r="3.55"/><circle cx="485.91" cy="548.25" r="3.55"/><circle cx="391.4" cy="551.75" r="3.55"/><circle cx="547.71" cy="490.0" r="3.55"/><circle cx="584.06" cy="492.0" r="3.55"/><circle cx="202.38" cy="655.5" r="3.55"/><circle cx="140.59" cy="668.5" r="3.55"/><circle cx="144.22" cy="671.0" r="3.55"/><circle cx="180.57" cy="668.25" r="3.55"/><circle cx="180.57" cy="678.25" r="3.55"/><circle cx="162.4" cy="681.5" r="3.55"/><circle cx="166.03" cy="687.25" r="3.55"/><circle cx="93.34" cy="691.5" r="3.55"/><circle cx="140.59" cy="697.5" r="3.55"/><circle cx="158.76" cy="697.75" r="3.55"/><circle cx="191.48" cy="701.25" r="3.55"/><circle cx="151.5" cy="704.75" r="3.55"/><circle cx="166.03" cy="710.0" r="3.55"/><circle cx="209.66" cy="708.0" r="3.55"/><circle cx="213.29" cy="716.25" r="3.55"/><circle cx="184.21" cy="728.25" r="3.55"/><circle cx="198.75" cy="731.75" r="3.55"/><circle cx="198.75" cy="734.25" r="3.55"/><circle cx="206.02" cy="731.75" r="3.55"/><circle cx="213.29" cy="731.5" r="3.55"/><circle cx="224.19" cy="732.0" r="3.55"/><circle cx="89.7" cy="735.25" r="3.55"/><circle cx="126.05" cy="736.5" r="3.55"/><circle cx="118.78" cy="739.0" r="3.55"/><circle cx="180.57" cy="739.25" r="3.55"/><circle cx="176.94" cy="740.5" r="3.55"/><circle cx="209.66" cy="740.25" r="3.55"/><circle cx="107.88" cy="742.0" r="3.55"/><circle cx="107.88" cy="745.5" r="3.55"/><circle cx="176.94" cy="745.75" r="3.55"/><circle cx="166.03" cy="746.5" r="3.55"/><circle cx="206.02" cy="747.0" r="3.55"/><circle cx="213.29" cy="747.5" r="3.55"/><circle cx="220.56" cy="745.5" r="3.55"/><circle cx="111.51" cy="749.5" r="3.55"/><circle cx="151.5" cy="749.5" r="3.55"/><circle cx="147.86" cy="755.5" r="3.55"/><circle cx="144.22" cy="757.5" r="3.55"/><circle cx="115.15" cy="755.0" r="3.55"/><circle cx="166.03" cy="755.5" r="3.55"/><circle cx="180.57" cy="757.5" r="3.55"/><circle cx="220.56" cy="754.5" r="3.55"/><circle cx="96.97" cy="756.75" r="3.55"/><circle cx="96.97" cy="758.75" r="3.55"/><circle cx="115.15" cy="760.5" r="3.55"/><circle cx="202.38" cy="760.0" r="3.55"/><circle cx="206.02" cy="763.75" r="3.55"/><circle cx="220.56" cy="762.5" r="3.55"/><circle cx="93.34" cy="771.25" r="3.55"/><circle cx="122.41" cy="768.5" r="3.55"/><circle cx="151.5" cy="769.75" r="3.55"/><circle cx="147.86" cy="772.0" r="3.55"/><circle cx="184.21" cy="768.0" r="3.55"/><circle cx="173.31" cy="772.5" r="3.55"/><circle cx="180.57" cy="774.25" r="3.55"/><circle cx="107.88" cy="785.75" r="3.55"/><circle cx="151.5" cy="790.0" r="3.55"/><circle cx="213.29" cy="788.75" r="3.55"/><circle cx="206.02" cy="791.5" r="3.55"/><circle cx="206.02" cy="795.0" r="3.55"/><circle cx="195.12" cy="793.75" r="3.55"/><circle cx="155.13" cy="810.75" r="3.55"/><circle cx="151.5" cy="815.75" r="3.55"/><circle cx="158.76" cy="823.25" r="3.55"/><circle cx="187.84" cy="824.25" r="3.55"/><circle cx="115.15" cy="832.25" r="3.55"/><circle cx="147.86" cy="846.75" r="3.55"/><circle cx="93.34" cy="894.25" r="3.55"/><circle cx="246.0" cy="639.75" r="3.55"/><circle cx="260.55" cy="642.5" r="3.55"/><circle cx="373.23" cy="646.0" r="3.55"/><circle cx="271.45" cy="650.75" r="3.55"/><circle cx="260.55" cy="657.75" r="3.55"/><circle cx="235.1" cy="663.0" r="3.55"/><circle cx="227.83" cy="678.0" r="3.55"/><circle cx="249.64" cy="677.25" r="3.55"/><circle cx="235.1" cy="681.5" r="3.55"/><circle cx="289.62" cy="683.5" r="3.55"/><circle cx="289.62" cy="688.75" r="3.55"/><circle cx="300.53" cy="683.0" r="3.55"/><circle cx="275.08" cy="691.75" r="3.55"/><circle cx="246.0" cy="702.5" r="3.55"/><circle cx="278.72" cy="705.75" r="3.55"/><circle cx="256.91" cy="712.75" r="3.55"/><circle cx="351.42" cy="710.75" r="3.55"/><circle cx="304.16" cy="718.25" r="3.55"/><circle cx="238.74" cy="720.25" r="3.55"/><circle cx="333.25" cy="722.0" r="3.55"/><circle cx="325.97" cy="727.0" r="3.55"/><circle cx="347.78" cy="726.25" r="3.55"/><circle cx="289.62" cy="730.0" r="3.55"/><circle cx="329.61" cy="732.25" r="3.55"/><circle cx="351.42" cy="733.25" r="3.55"/><circle cx="260.55" cy="733.5" r="3.55"/><circle cx="267.81" cy="737.0" r="3.55"/><circle cx="296.89" cy="736.25" r="3.55"/><circle cx="260.55" cy="740.25" r="3.55"/><circle cx="253.27" cy="741.25" r="3.55"/><circle cx="355.05" cy="740.0" r="3.55"/><circle cx="238.74" cy="742.75" r="3.55"/><circle cx="275.08" cy="743.75" r="3.55"/><circle cx="249.64" cy="745.5" r="3.55"/><circle cx="253.27" cy="748.0" r="3.55"/><circle cx="264.18" cy="747.25" r="3.55"/><circle cx="307.8" cy="747.75" r="3.55"/><circle cx="318.7" cy="746.5" r="3.55"/><circle cx="325.97" cy="748.25" r="3.55"/><circle cx="325.97" cy="752.0" r="3.55"/><circle cx="235.1" cy="755.5" r="3.55"/><circle cx="267.81" cy="756.0" r="3.55"/><circle cx="304.16" cy="755.75" r="3.55"/><circle cx="318.7" cy="755.25" r="3.55"/><circle cx="333.25" cy="755.25" r="3.55"/><circle cx="344.15" cy="756.0" r="3.55"/><circle cx="347.78" cy="754.5" r="3.55"/><circle cx="358.69" cy="758.5" r="3.55"/><circle cx="242.37" cy="762.5" r="3.55"/><circle cx="260.55" cy="761.5" r="3.55"/><circle cx="304.16" cy="764.0" r="3.55"/><circle cx="278.72" cy="767.5" r="3.55"/><circle cx="260.55" cy="769.5" r="3.55"/><circle cx="256.91" cy="773.0" r="3.55"/><circle cx="278.72" cy="774.25" r="3.55"/><circle cx="249.64" cy="775.75" r="3.55"/><circle cx="260.55" cy="780.5" r="3.55"/><circle cx="355.05" cy="770.5" r="3.55"/><circle cx="318.7" cy="775.5" r="3.55"/><circle cx="307.8" cy="779.5" r="3.55"/><circle cx="373.23" cy="780.75" r="3.55"/><circle cx="340.51" cy="781.75" r="3.55"/><circle cx="333.25" cy="784.5" r="3.55"/><circle cx="278.72" cy="788.5" r="3.55"/><circle cx="322.34" cy="790.75" r="3.55"/><circle cx="351.42" cy="789.0" r="3.55"/><circle cx="362.32" cy="791.0" r="3.55"/><circle cx="246.0" cy="792.75" r="3.55"/><circle cx="311.44" cy="793.75" r="3.55"/><circle cx="333.25" cy="794.5" r="3.55"/><circle cx="355.05" cy="794.5" r="3.55"/><circle cx="238.74" cy="798.5" r="3.55"/><circle cx="304.16" cy="802.75" r="3.55"/><circle cx="340.51" cy="803.5" r="3.55"/><circle cx="344.15" cy="803.75" r="3.55"/><circle cx="347.78" cy="803.75" r="3.55"/><circle cx="231.46" cy="806.0" r="3.55"/><circle cx="227.83" cy="808.25" r="3.55"/><circle cx="373.23" cy="805.75" r="3.55"/><circle cx="260.55" cy="813.0" r="3.55"/><circle cx="293.26" cy="813.25" r="3.55"/><circle cx="311.44" cy="815.0" r="3.55"/><circle cx="347.78" cy="815.0" r="3.55"/><circle cx="253.27" cy="819.5" r="3.55"/><circle cx="325.97" cy="818.75" r="3.55"/><circle cx="318.7" cy="821.75" r="3.55"/><circle cx="318.7" cy="826.25" r="3.55"/><circle cx="373.23" cy="827.75" r="3.55"/><circle cx="325.97" cy="830.5" r="3.55"/><circle cx="249.64" cy="832.5" r="3.55"/><circle cx="333.25" cy="835.75" r="3.55"/><circle cx="325.97" cy="838.25" r="3.55"/><circle cx="355.05" cy="836.25" r="3.55"/><circle cx="253.27" cy="859.25" r="3.55"/><circle cx="344.15" cy="876.25" r="3.55"/><circle cx="391.4" cy="688.0" r="3.55"/><circle cx="485.91" cy="707.25" r="3.55"/><circle cx="420.48" cy="717.25" r="3.55"/><circle cx="489.55" cy="719.0" r="3.55"/><circle cx="398.67" cy="737.0" r="3.55"/><circle cx="511.36" cy="734.5" r="3.55"/><circle cx="438.66" cy="739.0" r="3.55"/><circle cx="395.04" cy="746.25" r="3.55"/><circle cx="405.94" cy="747.25" r="3.55"/><circle cx="518.63" cy="745.75" r="3.55"/><circle cx="511.36" cy="749.25" r="3.55"/><circle cx="464.1" cy="750.75" r="3.55"/><circle cx="402.31" cy="769.25" r="3.55"/><circle cx="416.85" cy="768.5" r="3.55"/><circle cx="424.12" cy="767.0" r="3.55"/><circle cx="485.91" cy="768.5" r="3.55"/><circle cx="380.5" cy="777.0" r="3.55"/><circle cx="395.04" cy="777.25" r="3.55"/><circle cx="500.45" cy="776.25" r="3.55"/><circle cx="391.4" cy="785.25" r="3.55"/><circle cx="482.28" cy="781.75" r="3.55"/><circle cx="504.09" cy="781.25" r="3.55"/><circle cx="511.36" cy="788.75" r="3.55"/><circle cx="413.21" cy="801.75" r="3.55"/><circle cx="391.4" cy="803.5" r="3.55"/><circle cx="380.5" cy="813.0" r="3.55"/><circle cx="405.94" cy="812.5" r="3.55"/><circle cx="460.47" cy="813.0" r="3.55"/><circle cx="493.18" cy="812.5" r="3.55"/><circle cx="478.64" cy="833.75" r="3.55"/><circle cx="478.64" cy="841.25" r="3.55"/><circle cx="507.72" cy="856.75" r="3.55"/><circle cx="442.29" cy="863.0" r="3.55"/><circle cx="416.85" cy="865.25" r="3.55"/><circle cx="435.02" cy="868.0" r="3.55"/><circle cx="485.91" cy="864.0" r="3.55"/><circle cx="482.28" cy="870.25" r="3.55"/><circle cx="416.85" cy="893.25" r="3.55"/><circle cx="547.71" cy="790.25" r="3.55"/><circle cx="584.06" cy="799.0" r="3.55"/></g>
<line x1="89.6" y1="523.3" x2="584.3" y2="475.3" stroke="#a5141c" stroke-opacity="0.75" stroke-width="1.6" fill="none"/>
<line x1="89.6" y1="736.3" x2="584.3" y2="800" stroke="#a5141c" stroke-opacity="0.75" stroke-width="1.6" fill="none"/>
<g fill="none" stroke="#000" stroke-width="1.7">
<rect x="69.2" y="31.9" width="549.9" height="283.0"/>
<rect x="69.2" y="325.8" width="549.9" height="282.90000000000003"/>
<rect x="69.2" y="619.7" width="549.9" height="283.19999999999993"/>
</g><g fill="none" stroke="#000" stroke-width="1.4">
<line x1="58.0" y1="304.55" x2="69.2" y2="304.55"/><line x1="58.0" y1="252.10" x2="69.2" y2="252.10"/><line x1="58.0" y1="199.65" x2="69.2" y2="199.65"/><line x1="58.0" y1="147.20" x2="69.2" y2="147.20"/><line x1="58.0" y1="94.75" x2="69.2" y2="94.75"/><line x1="58.0" y1="42.30" x2="69.2" y2="42.30"/>
<line x1="58.0" y1="570.70" x2="69.2" y2="570.70"/><line x1="58.0" y1="523.76" x2="69.2" y2="523.76"/><line x1="58.0" y1="476.82" x2="69.2" y2="476.82"/><line x1="58.0" y1="429.88" x2="69.2" y2="429.88"/><line x1="58.0" y1="382.94" x2="69.2" y2="382.94"/><line x1="58.0" y1="336.00" x2="69.2" y2="336.00"/>
<line x1="58.0" y1="892.50" x2="69.2" y2="892.50"/><line x1="58.0" y1="855.00" x2="69.2" y2="855.00"/><line x1="58.0" y1="817.50" x2="69.2" y2="817.50"/><line x1="58.0" y1="780.00" x2="69.2" y2="780.00"/><line x1="58.0" y1="742.50" x2="69.2" y2="742.50"/><line x1="58.0" y1="705.00" x2="69.2" y2="705.00"/><line x1="58.0" y1="667.50" x2="69.2" y2="667.50"/><line x1="58.0" y1="630.00" x2="69.2" y2="630.00"/>
<line x1="89.70" y1="903" x2="89.70" y2="913.7"/>
<line x1="162.40" y1="903" x2="162.40" y2="913.7"/>
<line x1="235.10" y1="903" x2="235.10" y2="913.7"/>
<line x1="307.80" y1="903" x2="307.80" y2="913.7"/>
<line x1="380.50" y1="903" x2="380.50" y2="913.7"/>
<line x1="453.20" y1="903" x2="453.20" y2="913.7"/>
<line x1="525.90" y1="903" x2="525.90" y2="913.7"/>
<line x1="598.60" y1="903" x2="598.60" y2="913.7"/>
</g>
<g fill="#000" stroke="#000" stroke-width="0.3">
<text transform="translate(44.1,304.55) rotate(-90)" text-anchor="middle" font-size="17.7">135</text><text transform="translate(44.1,252.10) rotate(-90)" text-anchor="middle" font-size="17.7">140</text><text transform="translate(44.1,199.65) rotate(-90)" text-anchor="middle" font-size="17.7">145</text><text transform="translate(44.1,147.20) rotate(-90)" text-anchor="middle" font-size="17.7">150</text><text transform="translate(44.1,94.75) rotate(-90)" text-anchor="middle" font-size="17.7">155</text><text transform="translate(44.1,42.30) rotate(-90)" text-anchor="middle" font-size="17.7">160</text>
<text transform="translate(44.1,570.70) rotate(-90)" text-anchor="middle" font-size="17.7">4.0</text><text transform="translate(44.1,523.76) rotate(-90)" text-anchor="middle" font-size="17.7">4.5</text><text transform="translate(44.1,476.82) rotate(-90)" text-anchor="middle" font-size="17.7">5.0</text><text transform="translate(44.1,429.88) rotate(-90)" text-anchor="middle" font-size="17.7">5.5</text><text transform="translate(44.1,382.94) rotate(-90)" text-anchor="middle" font-size="17.7">6.0</text><text transform="translate(44.1,336.00) rotate(-90)" text-anchor="middle" font-size="17.7">6.5</text>
<text transform="translate(44.1,892.50) rotate(-90)" text-anchor="middle" font-size="17.7">24</text><text transform="translate(44.1,855.00) rotate(-90)" text-anchor="middle" font-size="17.7">26</text><text transform="translate(44.1,817.50) rotate(-90)" text-anchor="middle" font-size="17.7">28</text><text transform="translate(44.1,780.00) rotate(-90)" text-anchor="middle" font-size="17.7">30</text><text transform="translate(44.1,742.50) rotate(-90)" text-anchor="middle" font-size="17.7">32</text><text transform="translate(44.1,705.00) rotate(-90)" text-anchor="middle" font-size="17.7">34</text><text transform="translate(44.1,667.50) rotate(-90)" text-anchor="middle" font-size="17.7">36</text><text transform="translate(44.1,630.00) rotate(-90)" text-anchor="middle" font-size="17.7">38</text>
<text x="89.70" y="941.5" text-anchor="middle" font-size="17.7">60</text>
<text x="162.40" y="941.5" text-anchor="middle" font-size="17.7">80</text>
<text x="235.10" y="941.5" text-anchor="middle" font-size="17.7">100</text>
<text x="307.80" y="941.5" text-anchor="middle" font-size="17.7">120</text>
<text x="380.50" y="941.5" text-anchor="middle" font-size="17.7">140</text>
<text x="453.20" y="941.5" text-anchor="middle" font-size="17.7">160</text>
<text x="525.90" y="941.5" text-anchor="middle" font-size="17.7">180</text>
<text x="598.60" y="941.5" text-anchor="middle" font-size="17.7">200</text>
<text x="343.7" y="964" text-anchor="middle" font-size="22.5">Age (months)</text>
<text transform="translate(19.6,174.1) rotate(-90)" text-anchor="middle" font-size="22.5">Na (mEq/L)</text>
<text transform="translate(19.6,468.5) rotate(-90)" text-anchor="middle" font-size="22.5">K (mEq/L)</text>
<text transform="translate(19.6,761.2) rotate(-90)" text-anchor="middle" font-size="22.5">Na:K</text>
<text x="2.8" y="20.0" font-size="21.5" font-weight="bold">A</text>
<text x="2.8" y="333.6" font-size="21.5" font-weight="bold">B</text>
<text x="2.8" y="624.6" font-size="21.5" font-weight="bold">C</text>
</g>
</svg>
</body></html>
